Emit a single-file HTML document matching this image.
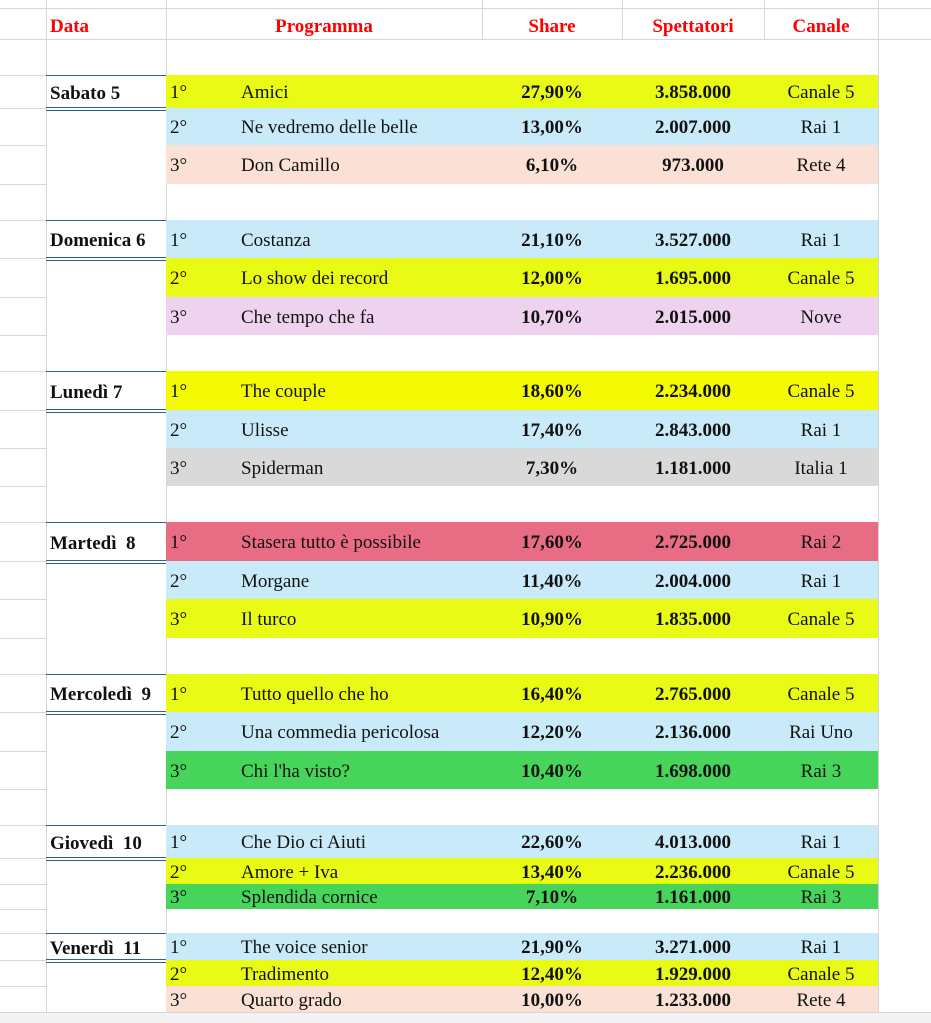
<!DOCTYPE html>
<html><head><meta charset="utf-8"><style>
body{margin:0;width:931px;height:1023px;background:#fff;position:relative;overflow:hidden;font-family:"Liberation Serif",serif;font-size:19px;color:#111}
.a{position:absolute}
.h{position:absolute;height:1px;background:#d6d6d6}
.v{position:absolute;width:1px;background:#d6d6d6}
.r{position:absolute;left:166px;width:712px}
.r span{position:absolute;top:3px;bottom:0;display:flex;align-items:center}
.o{left:4px}.p{left:75px}.s{left:316px;width:140px;justify-content:center;font-weight:bold}.n{left:456px;width:142px;justify-content:center;font-weight:bold}.c{left:598px;width:114px;justify-content:center}
.d{position:absolute;left:46px;width:120px;display:flex;align-items:center;padding-left:4px;padding-top:3px;font-weight:bold;box-sizing:border-box;white-space:nowrap}
.dl{position:absolute;left:46px;width:120px;height:1px;background:#2d6385}
.hd{position:absolute;top:11px;height:31px;display:flex;align-items:center;justify-content:center;color:#f00;font-weight:bold}
</style></head><body>
<div class="v" style="left:46px;top:0;height:1023px"></div>
<div class="v" style="left:166px;top:0;height:1023px"></div>
<div class="v" style="left:878px;top:0;height:1023px"></div>
<div class="v" style="left:482px;top:0;height:39px"></div>
<div class="v" style="left:622px;top:0;height:39px"></div>
<div class="v" style="left:764px;top:0;height:39px"></div>
<div class="v" style="left:482px;top:1012px;height:11px"></div>
<div class="v" style="left:622px;top:1012px;height:11px"></div>
<div class="v" style="left:764px;top:1012px;height:11px"></div>
<div class="v" style="left:237px;top:1012px;height:11px"></div>
<div class="h" style="left:0;width:931px;top:8px"></div>
<div class="h" style="left:0;width:931px;top:39px"></div>
<div class="h" style="left:0;width:931px;top:1012px"></div>
<div class="h" style="left:0;width:46px;top:75px"></div><div class="h" style="left:0;width:46px;top:108px"></div><div class="h" style="left:0;width:46px;top:145px"></div><div class="h" style="left:0;width:46px;top:184px"></div>
<div class="h" style="left:0;width:46px;top:220px"></div><div class="h" style="left:0;width:46px;top:258px"></div><div class="h" style="left:0;width:46px;top:297px"></div><div class="h" style="left:0;width:46px;top:335px"></div>
<div class="h" style="left:0;width:46px;top:371px"></div><div class="h" style="left:0;width:46px;top:410px"></div><div class="h" style="left:0;width:46px;top:448px"></div><div class="h" style="left:0;width:46px;top:486px"></div>
<div class="h" style="left:0;width:46px;top:522px"></div><div class="h" style="left:0;width:46px;top:561px"></div><div class="h" style="left:0;width:46px;top:599px"></div><div class="h" style="left:0;width:46px;top:638px"></div>
<div class="h" style="left:0;width:46px;top:674px"></div><div class="h" style="left:0;width:46px;top:712px"></div><div class="h" style="left:0;width:46px;top:751px"></div><div class="h" style="left:0;width:46px;top:789px"></div>
<div class="h" style="left:0;width:46px;top:825px"></div><div class="h" style="left:0;width:46px;top:858px"></div><div class="h" style="left:0;width:46px;top:884px"></div><div class="h" style="left:0;width:46px;top:909px"></div>
<div class="h" style="left:0;width:46px;top:933px"></div><div class="h" style="left:0;width:46px;top:960px"></div><div class="h" style="left:0;width:46px;top:986px"></div>
<div class="h" style="left:166px;width:712px;top:75px"></div>
<div class="hd" style="left:46px;width:120px;justify-content:flex-start;padding-left:4px">Data</div>
<div class="hd" style="left:166px;width:316px">Programma</div>
<div class="hd" style="left:482px;width:140px">Share</div>
<div class="hd" style="left:622px;width:142px">Spettatori</div>
<div class="hd" style="left:764px;width:114px">Canale</div>

<div class="dl" style="top:75px"></div><div class="d" style="top:76px;height:32px">Sabato 5</div><div class="dl" style="top:107px"></div><div class="dl" style="top:110px"></div>
<div class="r" style="top:75px;height:33px;background:#e9fb14"><span class="o">1°</span><span class="p">Amici</span><span class="s">27,90%</span><span class="n">3.858.000</span><span class="c">Canale 5</span></div>
<div class="r" style="top:108px;height:37px;background:#c9ebf9"><span class="o">2°</span><span class="p">Ne vedremo delle belle</span><span class="s">13,00%</span><span class="n">2.007.000</span><span class="c">Rai 1</span></div>
<div class="r" style="top:145px;height:39px;background:#fae0d5"><span class="o">3°</span><span class="p">Don Camillo</span><span class="s">6,10%</span><span class="n">973.000</span><span class="c">Rete 4</span></div>

<div class="dl" style="top:220px"></div><div class="d" style="top:221px;height:37px">Domenica 6</div><div class="dl" style="top:257px"></div><div class="dl" style="top:260px"></div>
<div class="r" style="top:220px;height:38px;background:#c9ebf9"><span class="o">1°</span><span class="p">Costanza</span><span class="s">21,10%</span><span class="n">3.527.000</span><span class="c">Rai 1</span></div>
<div class="r" style="top:258px;height:39px;background:#e9fb14"><span class="o">2°</span><span class="p">Lo show dei record</span><span class="s">12,00%</span><span class="n">1.695.000</span><span class="c">Canale 5</span></div>
<div class="r" style="top:297px;height:38px;background:#eed2ef"><span class="o">3°</span><span class="p">Che tempo che fa</span><span class="s">10,70%</span><span class="n">2.015.000</span><span class="c">Nove</span></div>

<div class="dl" style="top:371px"></div><div class="d" style="top:372px;height:38px">Lunedì 7</div><div class="dl" style="top:409px"></div><div class="dl" style="top:412px"></div>
<div class="r" style="top:371px;height:39px;background:#f4fb00"><span class="o">1°</span><span class="p">The couple</span><span class="s">18,60%</span><span class="n">2.234.000</span><span class="c">Canale 5</span></div>
<div class="r" style="top:410px;height:38px;background:#c9ebf9"><span class="o">2°</span><span class="p">Ulisse</span><span class="s">17,40%</span><span class="n">2.843.000</span><span class="c">Rai 1</span></div>
<div class="r" style="top:448px;height:38px;background:#d9d9d9"><span class="o">3°</span><span class="p">Spiderman</span><span class="s">7,30%</span><span class="n">1.181.000</span><span class="c">Italia 1</span></div>

<div class="dl" style="top:522px"></div><div class="d" style="top:523px;height:38px">Martedì&nbsp; 8</div><div class="dl" style="top:560px"></div><div class="dl" style="top:563px"></div>
<div class="r" style="top:522px;height:39px;background:#e86d84"><span class="o">1°</span><span class="p">Stasera tutto è possibile</span><span class="s">17,60%</span><span class="n">2.725.000</span><span class="c">Rai 2</span></div>
<div class="r" style="top:561px;height:38px;background:#c9ebf9"><span class="o">2°</span><span class="p">Morgane</span><span class="s">11,40%</span><span class="n">2.004.000</span><span class="c">Rai 1</span></div>
<div class="r" style="top:599px;height:39px;background:#e9fb14"><span class="o">3°</span><span class="p">Il turco</span><span class="s">10,90%</span><span class="n">1.835.000</span><span class="c">Canale 5</span></div>

<div class="dl" style="top:674px"></div><div class="d" style="top:675px;height:37px">Mercoledì&nbsp; 9</div><div class="dl" style="top:711px"></div><div class="dl" style="top:714px"></div>
<div class="r" style="top:674px;height:38px;background:#e9fb14"><span class="o">1°</span><span class="p">Tutto quello che ho</span><span class="s">16,40%</span><span class="n">2.765.000</span><span class="c">Canale 5</span></div>
<div class="r" style="top:712px;height:39px;background:#c9ebf9"><span class="o">2°</span><span class="p">Una commedia pericolosa</span><span class="s">12,20%</span><span class="n">2.136.000</span><span class="c">Rai Uno</span></div>
<div class="r" style="top:751px;height:38px;background:#47d45a"><span class="o">3°</span><span class="p">Chi l'ha visto?</span><span class="s">10,40%</span><span class="n">1.698.000</span><span class="c">Rai 3</span></div>

<div class="dl" style="top:825px"></div><div class="d" style="top:826px;height:32px">Giovedì&nbsp; 10</div><div class="dl" style="top:857px"></div><div class="dl" style="top:860px"></div>
<div class="r" style="top:825px;height:33px;background:#c9ebf9"><span class="o">1°</span><span class="p">Che Dio ci Aiuti</span><span class="s">22,60%</span><span class="n">4.013.000</span><span class="c">Rai 1</span></div>
<div class="r" style="top:858px;height:26px;background:#e9fb14"><span class="o">2°</span><span class="p">Amore + Iva</span><span class="s">13,40%</span><span class="n">2.236.000</span><span class="c">Canale 5</span></div>
<div class="r" style="top:884px;height:25px;background:#47d45a"><span class="o">3°</span><span class="p">Splendida cornice</span><span class="s">7,10%</span><span class="n">1.161.000</span><span class="c">Rai 3</span></div>

<div class="dl" style="top:933px"></div><div class="d" style="top:934px;height:26px">Venerdì&nbsp; 11</div><div class="dl" style="top:959px"></div><div class="dl" style="top:962px"></div>
<div class="r" style="top:933px;height:27px;background:#c9ebf9"><span class="o">1°</span><span class="p">The voice senior</span><span class="s">21,90%</span><span class="n">3.271.000</span><span class="c">Rai 1</span></div>
<div class="r" style="top:960px;height:26px;background:#e9fb14"><span class="o">2°</span><span class="p">Tradimento</span><span class="s">12,40%</span><span class="n">1.929.000</span><span class="c">Canale 5</span></div>
<div class="r" style="top:986px;height:26px;background:#fae0d5"><span class="o">3°</span><span class="p">Quarto grado</span><span class="s">10,00%</span><span class="n">1.233.000</span><span class="c">Rete 4</span></div>
<div class="a" style="left:0;top:1013px;width:931px;height:10px;background:#f3f3f3"></div>
</body></html>
